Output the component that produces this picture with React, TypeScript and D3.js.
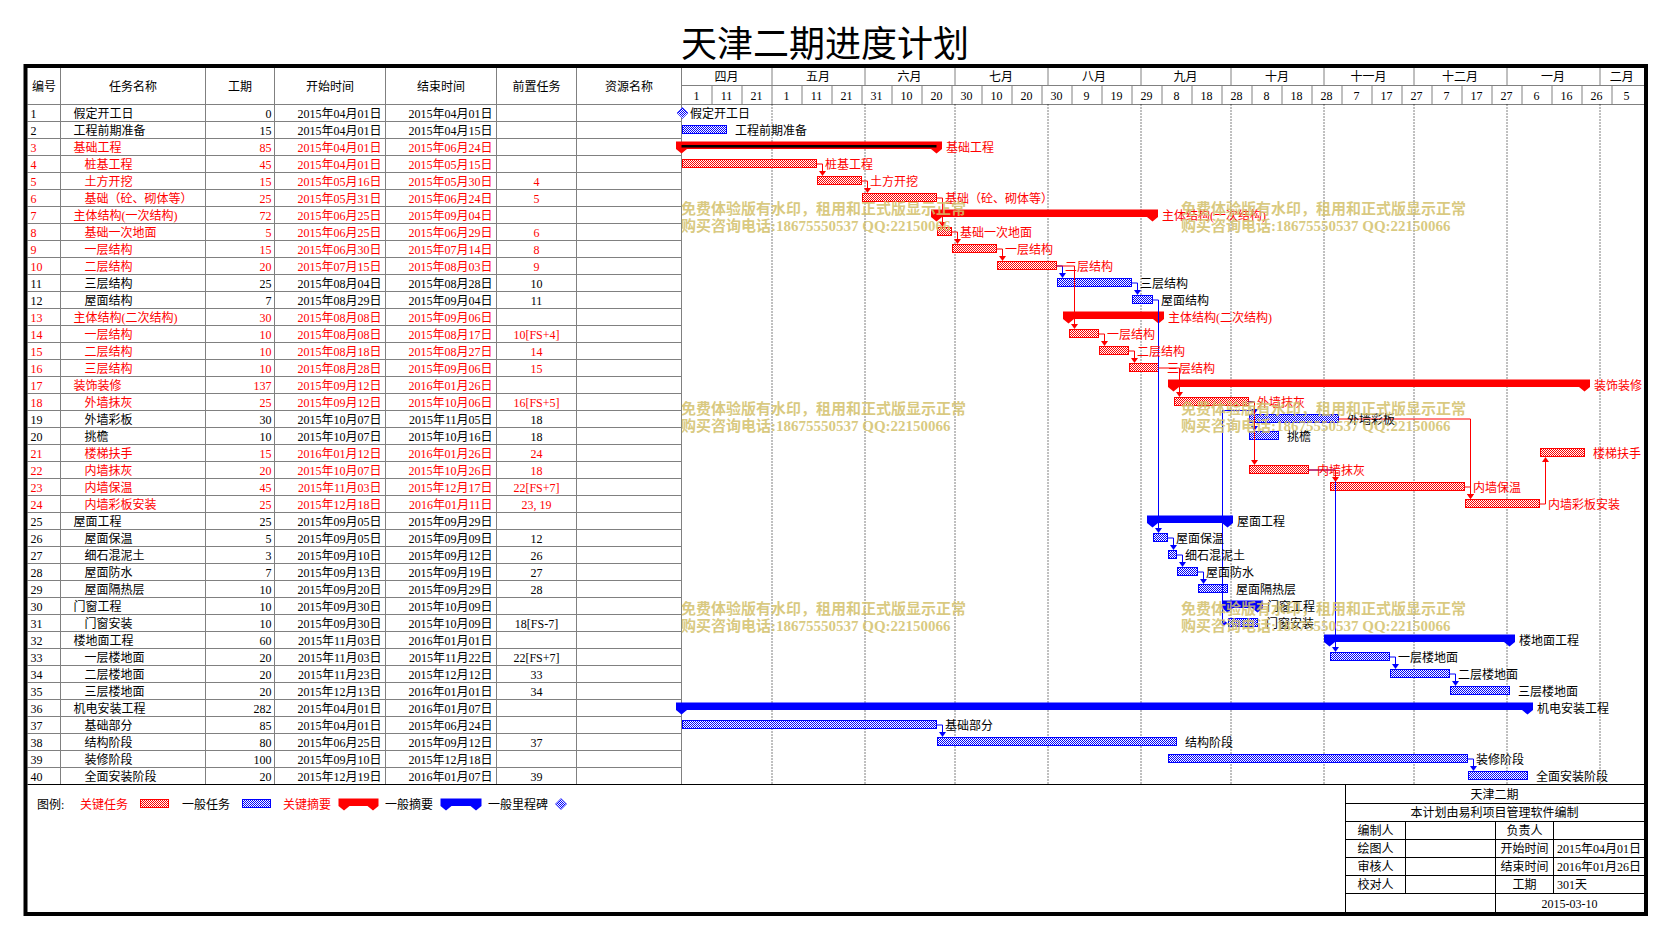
import React from "react";
import * as d3 from "d3";

// ---------------- DATA ----------------
const taskNames = [
  "假定开工日", "工程前期准备", "基础工程", "桩基工程", "土方开挖", "基础（砼、砌体等）",
  "主体结构(一次结构)", "基础一次地面", "一层结构", "二层结构", "三层结构", "屋面结构",
  "主体结构(二次结构)", "一层结构", "二层结构", "三层结构", "装饰装修", "外墙抹灰",
  "外墙彩板", "挑檐", "楼梯扶手", "内墙抹灰", "内墙保温", "内墙彩板安装", "屋面工程",
  "屋面保温", "细石混泥土", "屋面防水", "屋面隔热层", "门窗工程", "门窗安装", "楼地面工程",
  "一层楼地面", "二层楼地面", "三层楼地面", "机电安装工程", "基础部分", "结构阶段",
  "装修阶段", "全面安装阶段",
];
const taskLevels = [1,1,1,2,2,2,1,2,2,2,2,2,1,2,2,2,1,2,2,2,2,2,2,2,1,2,2,2,2,1,2,1,2,2,2,1,2,2,2,2];
const durations = [0,15,85,45,15,25,72,5,15,20,25,7,30,10,10,10,137,25,30,10,15,20,45,25,25,5,3,7,10,10,10,60,20,20,20,282,85,80,100,20];
const startDates = [
  "2015-04-01","2015-04-01","2015-04-01","2015-04-01","2015-05-16","2015-05-31","2015-06-25","2015-06-25",
  "2015-06-30","2015-07-15","2015-08-04","2015-08-29","2015-08-08","2015-08-08","2015-08-18","2015-08-28",
  "2015-09-12","2015-09-12","2015-10-07","2015-10-07","2016-01-12","2015-10-07","2015-11-03","2015-12-18",
  "2015-09-05","2015-09-05","2015-09-10","2015-09-13","2015-09-20","2015-09-30","2015-09-30","2015-11-03",
  "2015-11-03","2015-11-23","2015-12-13","2015-04-01","2015-04-01","2015-06-25","2015-09-10","2015-12-19",
];
const endDates = [
  "2015-04-01","2015-04-15","2015-06-24","2015-05-15","2015-05-30","2015-06-24","2015-09-04","2015-06-29",
  "2015-07-14","2015-08-03","2015-08-28","2015-09-04","2015-09-06","2015-08-17","2015-08-27","2015-09-06",
  "2016-01-26","2015-10-06","2015-11-05","2015-10-16","2016-01-26","2015-10-26","2015-12-17","2016-01-11",
  "2015-09-29","2015-09-09","2015-09-12","2015-09-19","2015-09-29","2015-10-09","2015-10-09","2016-01-01",
  "2015-11-22","2015-12-12","2016-01-01","2016-01-07","2015-06-24","2015-09-12","2015-12-18","2016-01-07",
];
const predecessors = [
  "","","","","4","5","","6","8","9","10","11","","10[FS+4]","14","15","","16[FS+5]",
  "18","18","24","18","22[FS+7]","23, 19","","12","26","27","28","","18[FS-7]","","22[FS+7]","33","34",
  "","","37","","39",
];
const criticalIds = [3,4,5,6,7,8,9,10,13,14,15,16,17,18,21,22,23,24];
const summaryIds = [3,7,13,17,25,30,32,36];
const innerLineIds = [3];

const monthLabels = ["四月","五月","六月","七月","八月","九月","十月","十一月","十二月","一月","二月"];
const monthStarts = ["2015-04-01","2015-05-01","2015-06-01","2015-07-01","2015-08-01","2015-09-01","2015-10-01","2015-11-01","2015-12-01","2016-01-01","2016-02-01"];
const dayTickLabels = ["1","11","21","1","11","21","31","10","20","30","10","20","30","9","19","29","8","18","28","8","18","28","7","17","27","7","17","27","6","16","26","5"];

const headerLabels = ["编号","任务名称","工期","开始时间","结束时间","前置任务","资源名称"];
const chartTitle = "天津二期进度计划";
const watermarkLines = ["免费体验版有水印，租用和正式版显示正常", "购买咨询电话:18675550537 QQ:22150066"];
const infoTitle = "天津二期";
const infoSubtitle = "本计划由易利项目管理软件编制";
const infoLeft = ["编制人","绘图人","审核人","校对人"];
const infoRightLabels = ["负责人","开始时间","结束时间","工期"];
const infoRightValues = ["","2015年04月01日","2016年01月26日","301天"];
const infoDate = "2015-03-10";

// ---------------- LAYOUT ----------------
const RED = "#ff0000";
const BLUE = "#0000ff";
const GRID = "#808080";
const FONT = "'Liberation Serif','Noto Sans CJK SC',serif";
const FS = 12;

const FRAME = { x0: 25.5, y0: 66, x1: 1646, y1: 914 };
const HEADER_TOP = 68;
const MONTH_BOTTOM = 85.5;
const BODY_TOP = 104.5;
const ROW_H = 17;
const colX = [27.5, 60.5, 205.5, 274.5, 385.5, 496.5, 576.5, 681.5];
const CHART_X0 = 681.5;
const CHART_X1 = 1644;
const BODY_BOTTOM = BODY_TOP + ROW_H * taskNames.length;

const parse = d3.utcParse("%Y-%m-%d");
const fmt = d3.utcFormat("%Y年%m月%d日");
const x = d3
  .scaleUtc()
  .domain([parse("2015-04-01") as Date, parse("2016-02-16") as Date])
  .range([CHART_X0, CHART_X0 + 321 * 3]);

const rowCy = (i: number) => BODY_TOP + i * ROW_H + ROW_H / 2;

const tasks = taskNames.map((name, i) => {
  const id = i + 1;
  const s = parse(startDates[i]) as Date;
  const e = parse(endDates[i]) as Date;
  return {
    id,
    name,
    level: taskLevels[i],
    dur: durations[i],
    start: s,
    end: e,
    pred: predecessors[i],
    critical: criticalIds.includes(id),
    summary: summaryIds.includes(id),
    milestone: durations[i] === 0,
    sx: x(s),
    ex: x(d3.utcDay.offset(e, 1)),
    cy: rowCy(i),
  };
});

function SummaryShape({ x0, x1, cy, color, inner }: { x0: number; x1: number; cy: number; color: string; inner?: boolean }) {
  const top = cy - 5.5;
  const d = `M${x0 - 5.5},${top} H${x1 + 5.5} V${top + 7.5} L${x1},${top + 12} L${x1 - 5.5},${top + 7.5} H${x0 + 5.5} L${x0},${top + 12} L${x0 - 5.5},${top + 7.5} Z`;
  return (
    <g>
      <path d={d} fill={color} />
      {inner && <rect x={x0} y={top + 3.5} width={x1 - x0} height={2.5} fill="#000" />}
    </g>
  );
}

function Diamond({ cx, cy }: { cx: number; cy: number }) {
  const r = 5.5;
  return (
    <path
      d={`M${cx},${cy - r} L${cx + r},${cy} L${cx},${cy + r} L${cx - r},${cy} Z`}
      fill="url(#patBlue)"
      stroke="#5050ff"
      strokeWidth={1}
    />
  );
}

export default function App() {
  const links: { d: string; arrow: string; color: string; crit: boolean }[] = [];
  tasks.forEach((t) => {
    if (!t.pred) return;
    const ids = t.pred.split(",").map((s) => parseInt(s.trim(), 10)).filter((v) => !isNaN(v));
    ids.forEach((pid) => {
      const p = tasks[pid - 1];
      const px = p.ex, py = p.cy;
      const sx = t.sx, sy = t.cy;
      const color = t.critical ? RED : BLUE;
      if (sy > py) {
        if (sx + 6 >= px) {
          const vx = Math.max(px, sx) + 6;
          const top = sy - 5;
          links.push({
            d: `M${px},${py} H${vx} V${top - 4}`,
            arrow: `M${vx - 3.5},${top - 5} H${vx + 3.5} L${vx},${top} Z`,
            color,
            crit: t.critical,
          });
        } else {
          const lx = sx - 5;
          links.push({
            d: `M${px},${py} H${px + 6} V${py + 8.5} H${lx} V${sy} H${sx - 4}`,
            arrow: `M${sx - 5},${sy - 3.5} V${sy + 3.5} L${sx},${sy} Z`,
            color,
            crit: t.critical,
          });
        }
      } else {
        const vx = Math.max(px, sx) + 6;
        const bot = sy + 4;
        links.push({
          d: `M${px},${py} H${vx} V${bot + 4}`,
          arrow: `M${vx - 3.5},${bot + 5} H${vx + 3.5} L${vx},${bot} Z`,
          color,
          crit: t.critical,
        });
      }
    });
  });
  links.sort((a, b) => Number(a.crit) - Number(b.crit));

  const monthDates = monthStarts.map((m) => parse(m) as Date);
  const chartStart = parse("2015-04-01") as Date;
  const dayTickDates = dayTickLabels.map((_, i) => d3.utcDay.offset(chartStart, i * 10));

  const wmX = [681, 1181];
  const wmY = [214, 414, 614];

  return (
    <svg
      width={1667}
      height={939}
      style={{ position: "absolute", left: 0, top: 0, background: "#fff" }}
      fontFamily={FONT}
      fontSize={FS}
    >
      <defs>
        <pattern id="patRed" width={2} height={2} patternUnits="userSpaceOnUse">
          <rect width={2} height={2} fill="#fff" />
          <rect width={1} height={1} fill={RED} />
          <rect x={1} y={1} width={1} height={1} fill={RED} />
        </pattern>
        <pattern id="patBlue" width={2} height={2} patternUnits="userSpaceOnUse">
          <rect width={2} height={2} fill="#fff" />
          <rect width={1} height={1} fill={BLUE} />
          <rect x={1} y={1} width={1} height={1} fill={BLUE} />
        </pattern>
      </defs>
      <rect width={1667} height={939} fill="#fff" />

      {/* Title */}
      <text x={825} y={57} textAnchor="middle" fontSize={36} fontFamily="'Noto Sans CJK SC',sans-serif" fill="#000">
        {chartTitle}
      </text>

      {/* Table header labels */}
      {headerLabels.map((h, i) => (
        <text key={h} x={(colX[i] + colX[i + 1]) / 2} y={90.5} textAnchor="middle" fill="#000">
          {h}
        </text>
      ))}

      {/* Table grid */}
      <g stroke={GRID} strokeWidth={1}>
        {colX.slice(1).map((cx, i) => (
          <line key={"v" + i} x1={cx} x2={cx} y1={HEADER_TOP} y2={BODY_BOTTOM} />
        ))}
        {tasks.map((t, i) => (
          <line key={"h" + i} x1={colX[0]} x2={CHART_X0} y1={BODY_TOP + i * ROW_H} y2={BODY_TOP + i * ROW_H} />
        ))}
        <line x1={CHART_X0} x2={CHART_X1} y1={BODY_TOP} y2={BODY_TOP} />
        <line x1={CHART_X0} x2={CHART_X1} y1={MONTH_BOTTOM} y2={MONTH_BOTTOM} />
        {monthDates.slice(1).map((m, i) => (
          <line key={"mv" + i} x1={x(m) + 0.5} x2={x(m) + 0.5} y1={HEADER_TOP} y2={MONTH_BOTTOM} />
        ))}
        {dayTickDates.slice(1).map((d, i) => (
          <line key={"dv" + i} x1={x(d) + 0.5} x2={x(d) + 0.5} y1={MONTH_BOTTOM} y2={BODY_TOP} />
        ))}
      </g>

      {/* Month labels */}
      {monthLabels.map((m, i) => {
        const a = x(monthDates[i]);
        const b = i + 1 < monthDates.length ? x(monthDates[i + 1]) : CHART_X1;
        return (
          <text key={"ml" + i} x={(a + Math.min(b, CHART_X1)) / 2} y={81} textAnchor="middle" fill="#000">
            {m}
          </text>
        );
      })}
      {dayTickLabels.map((l, i) => {
        const a = x(dayTickDates[i]);
        const b = Math.min(x(d3.utcDay.offset(dayTickDates[i], 10)), CHART_X1);
        return (
          <text key={"dl" + i} x={(a + b) / 2} y={99.5} textAnchor="middle" fill="#000">
            {l}
          </text>
        );
      })}

      {/* Dotted month lines in chart body */}
      <g stroke="#000" strokeWidth={1} strokeDasharray="1 2">
        {monthDates.slice(1).map((m, i) => (
          <line key={"dm" + i} x1={x(m) + 0.5} x2={x(m) + 0.5} y1={BODY_TOP} y2={BODY_BOTTOM} />
        ))}
      </g>

      {/* Table rows */}
      {tasks.map((t) => {
        const c = t.critical ? RED : "#000";
        const by = t.cy + 4.5;
        return (
          <g key={"row" + t.id} fill={c}>
            <text x={colX[0] + 3} y={by}>{t.id}</text>
            <text x={colX[1] + (t.level === 1 ? 13 : 24)} y={by}>{t.name}</text>
            <text x={colX[3] - 3} y={by} textAnchor="end">{t.dur}</text>
            <text x={colX[4] - 4} y={by} textAnchor="end">{fmt(t.start)}</text>
            <text x={colX[5] - 4} y={by} textAnchor="end">{fmt(t.end)}</text>
            <text x={(colX[5] + colX[6]) / 2} y={by} textAnchor="middle">{t.pred}</text>
          </g>
        );
      })}

      {/* Bars */}
      {tasks.map((t) => {
        if (t.milestone) return <Diamond key={"b" + t.id} cx={t.sx + 1} cy={t.cy} />;
        if (t.summary)
          return (
            <SummaryShape
              key={"b" + t.id}
              x0={t.sx}
              x1={t.ex}
              cy={t.cy}
              color={t.critical ? RED : BLUE}
              inner={innerLineIds.includes(t.id)}
            />
          );
        return (
          <rect
            key={"b" + t.id}
            x={Math.round(t.sx) + 0.5}
            y={Math.round(t.cy - 5) + 0.5}
            width={Math.max(1, Math.round(t.ex - t.sx) - 1)}
            height={8}
            fill={t.critical ? "url(#patRed)" : "url(#patBlue)"}
            stroke={t.critical ? RED : BLUE}
            strokeWidth={1}
          />
        );
      })}

      {/* Connectors */}
      {links.map((l, i) => (
        <g key={"lk" + i}>
          <path d={l.d} fill="none" stroke={l.color} strokeWidth={1} />
          <path d={l.arrow} fill={l.color} />
        </g>
      ))}

      {/* Bar labels */}
      {tasks.map((t) => (
        <text
          key={"lb" + t.id}
          x={(t.milestone ? t.sx : t.ex) + (t.summary ? 9.5 : 8.5)}
          y={t.cy + 4.5}
          fill={t.critical ? RED : "#000"}
        >
          {t.name}
        </text>
      ))}

      {/* Watermarks */}
      {wmX.map((wx) =>
        wmY.map((wy) => (
          <g key={"wm" + wx + "-" + wy} fill="#d2bf6a" fillOpacity={0.85} fontSize={15} fontWeight="bold">
            <text x={wx} y={wy}>{watermarkLines[0]}</text>
            <text x={wx} y={wy + 17}>{watermarkLines[1]}</text>
          </g>
        ))
      )}

      {/* Bottom line */}
      <line x1={colX[0]} x2={CHART_X1} y1={BODY_BOTTOM} y2={BODY_BOTTOM} stroke="#000" strokeWidth={1} />

      {/* Legend */}
      <g>
        <text x={37} y={808.5} fill="#000">图例:</text>
        <text x={80} y={808.5} fill={RED}>关键任务</text>
        <rect x={140.5} y={799.5} width={28} height={8} fill="url(#patRed)" stroke={RED} />
        <text x={182} y={808.5} fill="#000">一般任务</text>
        <rect x={242.5} y={799.5} width={28} height={8} fill="url(#patBlue)" stroke={BLUE} />
        <text x={283} y={808.5} fill={RED}>关键摘要</text>
        <SummaryShape x0={344} x1={373} cy={804} color={RED} />
        <text x={385} y={808.5} fill="#000">一般摘要</text>
        <SummaryShape x0={446} x1={476} cy={804} color={BLUE} />
        <text x={488} y={808.5} fill="#000">一般里程碑</text>
        <Diamond cx={561} cy={804} />
      </g>

      {/* Info block */}
      <g stroke="#000" strokeWidth={1}>
        <line x1={1345.5} x2={1345.5} y1={BODY_BOTTOM} y2={FRAME.y1} />
        {[803.5, 821.5, 839.5, 857.5, 875.5, 893.5].map((yy) => (
          <line key={"ib" + yy} x1={1345.5} x2={CHART_X1} y1={yy} y2={yy} />
        ))}
        <line x1={1405.5} x2={1405.5} y1={821.5} y2={893.5} />
        <line x1={1495.5} x2={1495.5} y1={821.5} y2={FRAME.y1} />
        <line x1={1553.5} x2={1553.5} y1={821.5} y2={893.5} />
      </g>
      <text x={1494.5} y={798.5} textAnchor="middle" fill="#000">{infoTitle}</text>
      <text x={1494.5} y={816.5} textAnchor="middle" fill="#000">{infoSubtitle}</text>
      {infoLeft.map((l, i) => (
        <text key={"il" + i} x={1375.5} y={834.5 + i * 18} textAnchor="middle" fill="#000">{l}</text>
      ))}
      {infoRightLabels.map((l, i) => (
        <text key={"ir" + i} x={1524.5} y={834.5 + i * 18} textAnchor="middle" fill="#000">{l}</text>
      ))}
      {infoRightValues.map((l, i) => (
        <text key={"iv" + i} x={1557} y={834.5 + i * 18} fill="#000">{l}</text>
      ))}
      <text x={1569.5} y={907.5} textAnchor="middle" fill="#000">{infoDate}</text>

      {/* Frame */}
      <rect
        x={FRAME.x0}
        y={FRAME.y0}
        width={FRAME.x1 - FRAME.x0}
        height={FRAME.y1 - FRAME.y0}
        fill="none"
        stroke="#000"
        strokeWidth={4}
      />
    </svg>
  );
}
